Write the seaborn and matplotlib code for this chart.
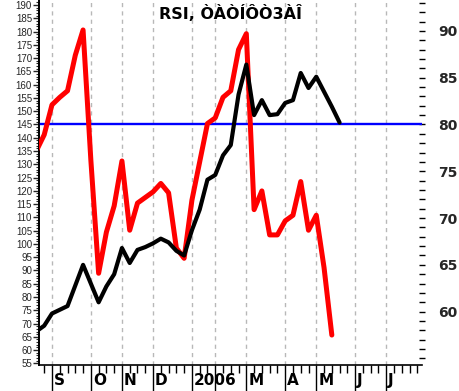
import numpy as np
import pandas as pd
import matplotlib
matplotlib.use('Agg')
import matplotlib.pyplot as plt
import seaborn as sns
from matplotlib.ticker import MultipleLocator, FixedLocator, NullFormatter
from matplotlib.transforms import blended_transform_factory

# ---------------- data (weekly bars, index 0 = first week of September) ----------------
weeks_black = list(range(-2, 38))
rsi_black = [57.9, 58.5, 59.8, 60.2, 60.6, 62.8, 65.0, 63.0, 61.0, 62.7,
             64.0, 66.8, 65.2, 66.6, 66.9, 67.3, 67.8, 67.4, 66.5, 66.0,
             68.7, 70.9, 74.1, 74.6, 76.7, 77.8, 83.2, 86.4, 81.0, 82.6,
             81.0, 81.1, 82.3, 82.6, 85.5, 83.9, 85.1, 83.5, 81.9, 80.2]

weeks_red = list(range(-2, 37))
rsi_red = [77.2, 78.9, 82.1, 82.9, 83.6, 87.4, 90.1, 76.2, 64.1, 68.5,
           71.3, 76.1, 68.7, 71.6, 72.2, 72.8, 73.7, 72.7, 66.8, 65.7,
           71.9, 76.0, 80.1, 80.7, 82.9, 83.6, 88.0, 89.7, 70.9, 72.9,
           68.2, 68.2, 69.7, 70.3, 73.9, 68.7, 70.3, 64.7, 57.5]

month_start = [0, 5, 9, 13, 18, 21, 25, 30, 34, 39, 43]
month_label = ['S', 'O', 'N', 'D', '2006', '', 'M', 'A', 'M', 'J', 'J']

level = 80
title = 'RSI, ÒÀÒÍÔÒ3ÀÎ'

df_black = pd.DataFrame({'week': weeks_black, 'rsi': rsi_black})
df_red = pd.DataFrame({'week': weeks_red, 'rsi': rsi_red})

# ---------------- style ----------------
sns.set_theme(style='white')
plt.rcParams['font.family'] = ['DejaVu Sans']

fig = plt.figure(figsize=(4.6, 3.91), dpi=100)
ax = fig.add_axes([39 / 460, 1 - 365 / 391, 383 / 460, 365 / 391])

ax.axhline(level, color='#0000ff', lw=1.7, zorder=2)
sns.lineplot(data=df_red, x='week', y='rsi', color='#ff0000', lw=3.6, ax=ax, zorder=3)
sns.lineplot(data=df_black, x='week', y='rsi', color='black', lw=3.0, ax=ax, zorder=4)

ax.set_xlim(-1.67, 47.6)
ax.set_ylim(54.3, 93.3)
ax.set_xlabel('')
ax.set_ylabel('')

# right axis (RSI scale)
ax.yaxis.tick_right()
ax.yaxis.set_major_locator(MultipleLocator(5))
ax.yaxis.set_minor_locator(MultipleLocator(1))
ax.set_yticks([60, 65, 70, 75, 80, 85, 90])
ax.tick_params(axis='y', which='both', direction='inout', length=5, width=1,
               color='black', pad=9, labelsize=10, right=True, left=False)
for lab in ax.get_yticklabels():
    lab.set_fontweight('bold')

# x axis: weekly ticks, long separators at month starts
ax.xaxis.set_major_locator(FixedLocator(month_start))
ax.xaxis.set_minor_locator(FixedLocator(list(range(-1, 48))))
ax.xaxis.set_major_formatter(NullFormatter())
ax.tick_params(axis='x', which='major', direction='out', length=19, width=1, color='black', bottom=True)
ax.tick_params(axis='x', which='minor', direction='out', length=6, width=1, color='black', bottom=True)
ax.xaxis.grid(True, which='major', linestyle=(0, (3, 3)), color='#b8b8b8', lw=1)

trans = blended_transform_factory(ax.transData, ax.transAxes)
for m, lab in zip(month_start, month_label):
    ax.text(m + 0.25, -0.043, lab, transform=trans, ha='left', va='center',
            fontsize=11, fontweight='bold', color='black')

for s in ['top', 'right']:
    ax.spines[s].set_visible(False)
for s in ['left', 'bottom']:
    ax.spines[s].set_color('black')
    ax.spines[s].set_linewidth(1.2)

# left axis (price-like scale tied to the RSI scale)
def to_left(r):
    return 145 + (r - 80) * 3.526

def to_right(v):
    return 80 + (v - 145) / 3.526

lax = ax.secondary_yaxis('left', functions=(to_left, to_right))
lax.set_yticks(list(range(55, 195, 5)))
lax.yaxis.set_minor_locator(MultipleLocator(1))
lax.tick_params(axis='y', which='major', direction='out', length=4, width=1, pad=1, labelsize=7)
lax.tick_params(axis='y', which='minor', direction='out', length=2, width=0.8)
for lab in lax.get_yticklabels():
    lab.set_family(['Liberation Sans Narrow', 'Liberation Sans', 'DejaVu Sans'])
lax.spines['left'].set_color('black')

ax.text(0.499, 0.964, title, transform=ax.transAxes, ha='center', va='center',
        fontsize=11.5, fontweight='bold', color='black')

fig.savefig('out.png', dpi=100)
